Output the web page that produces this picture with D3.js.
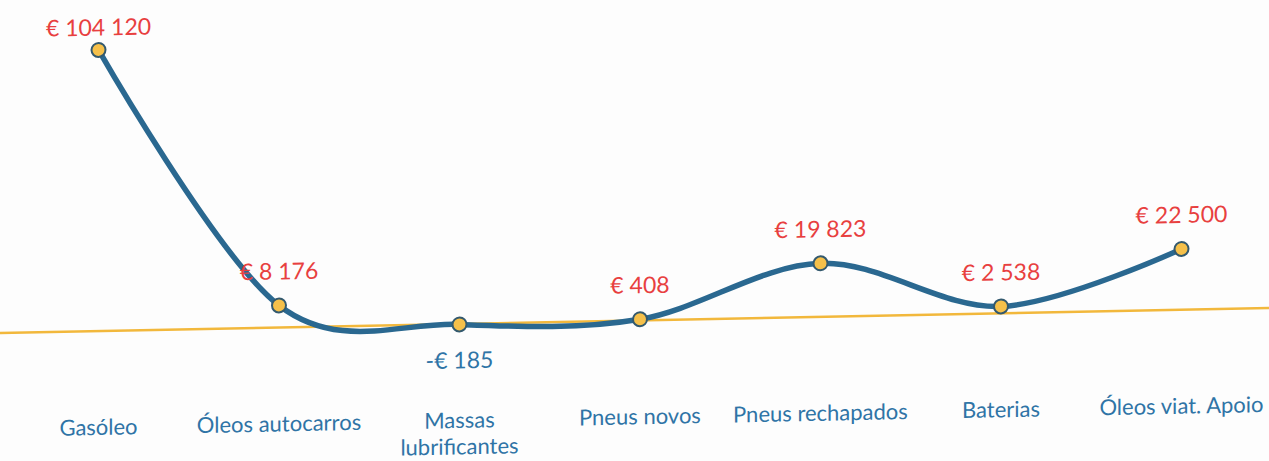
<!DOCTYPE html>
<html>
<head>
<meta charset="utf-8">
<script src="https://cdn.jsdelivr.net/npm/d3@7"></script>
<style>
    body { margin: 0; background: #fdfdfd; }
    svg { display: block; }
</style>
</head>
<body>
<div id="chart"></div>
<script>
// categories and values (euros)
const categories = ["Gasóleo", "Óleos autocarros", "Massas lubrificantes", "Pneus novos",
    "Pneus rechapados", "Baterias", "Óleos viat. Apoio"];
const values = [104120, 8176, -185, 408, 19823, 2538, 22500];

const width = 1269, height = 461;
const fontFam = "Lato, 'Open Sans', sans-serif";

const svg = d3.select("#chart").append("svg")
    .attr("width", width)
    .attr("height", height);

// the scanned page is a little tilted
const g = svg.append("g")
    .attr("transform", "translate(634, 320.5) skewY(-1.13) translate(-634, -320.5)");

const x = d3.scaleBand()
    .domain(categories)
    .range([8.25, 1271.75]);

const y = d3.scaleLinear()
    .domain([0, 100000])
    .range([320.5, 50.5]);

const data = categories.map((c, i) => ({cat: c, value: values[i]}));
const cx = d => x(d.cat) + x.bandwidth() / 2;

// zero line
g.append("line")
    .attr("x1", -20).attr("x2", width + 20)
    .attr("y1", y(0)).attr("y2", y(0))
    .attr("stroke", "#f2b83c")
    .attr("stroke-width", 2.5);

// smoothed line
const line = d3.line()
    .x(cx)
    .y(d => y(d.value))
    .curve(d3.curveCardinal.tension(0));

g.append("path")
    .datum(data)
    .attr("d", line)
    .attr("fill", "none")
    .attr("stroke", "#2a6890")
    .attr("stroke-width", 5.5)
    .attr("stroke-linecap", "round");

g.selectAll("circle.pt")
    .data(data)
    .enter()
    .append("circle")
    .attr("class", "pt")
    .attr("cx", cx)
    .attr("cy", d => y(d.value))
    .attr("r", 7)
    .attr("fill", "#f5c04a")
    .attr("stroke", "#33596e")
    .attr("stroke-width", 2);

// value labels, kept inside the plot area
const fmt = v => (v < 0 ? "-€ " : "€ ") + d3.format(",")(Math.abs(v)).replace(/,/g, " ");

g.selectAll("text.val")
    .data(data)
    .enter()
    .append("text")
    .attr("class", "val")
    .attr("x", cx)
    .attr("y", d => d.value < 0 ? y(d.value) + 44 : Math.max(y(d.value) - 26, 25))
    .attr("text-anchor", "middle")
    .style("font-family", fontFam)
    .style("font-size", "23px")
    .attr("fill", d => d.value < 0 ? "#2f74a6" : "#e8403f")
    .text(d => fmt(d.value));

// category labels, wrapped when too wide
const catLabels = g.selectAll("text.cat")
    .data(data)
    .enter()
    .append("text")
    .attr("class", "cat")
    .attr("x", cx)
    .attr("y", y(0) + 104)
    .attr("text-anchor", "middle")
    .style("font-family", fontFam)
    .style("font-size", "22px")
    .attr("fill", "#2f74a6");

catLabels.each(function(d) {
    const t = d3.select(this);
    const words = d.cat.split(" ");
    t.text(d.cat);
    if (this.getComputedTextLength() > 185 && words.length > 1) {
        t.text("");
        words.forEach((w, i) => {
            t.append("tspan")
                .attr("x", cx(d))
                .attr("dy", i === 0 ? 0 : 26.5)
                .text(w);
        });
    }
});
</script>
</body>
</html>
